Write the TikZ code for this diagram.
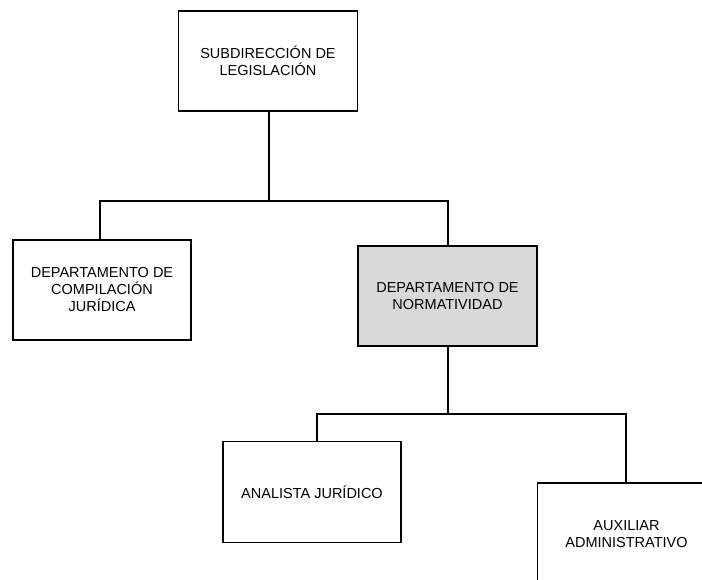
\documentclass[tikz,border=0pt]{standalone}
\usepackage{fontspec}
\setmainfont{Liberation Sans}
\begin{document}
\begin{tikzpicture}[x=1pt,y=-1pt,
  unit/.style={draw=black,line width=1.3pt,fill=white,minimum width=179pt,minimum height=100pt,
    align=center,inner sep=0pt,font=\fontsize{14.5}{17}\selectfont},
  graybox/.style={unit,fill=black!15},
  link/.style={line width=1.3pt,line cap=rect}]
\useasboundingbox (0,0) rectangle (702,580);
\clip (0,0) rectangle (702,580);
% boxes
\node[unit] (sub) at (268,61) {SUBDIRECCIÓN DE\\LEGISLACIÓN};
\node[unit,minimum width=178pt] (comp) at (102,290) {DEPARTAMENTO DE\\COMPILACIÓN\\JURÍDICA};
\node[graybox] (norm) at (447.5,296) {DEPARTAMENTO DE\\NORMATIVIDAD};
\node[unit,minimum width=178pt,minimum height=101pt] (anal) at (312,492) {ANALISTA JURÍDICO};
\node[unit,minimum height=120pt] (aux) at (627,543) {};
\node[align=center,inner sep=0pt,font=\fontsize{14.5}{17}\selectfont] (auxt) at (626.5,534) {AUXILIAR\\ADMINISTRATIVO};
% connectors
\coordinate (j1) at (269,201);
\coordinate (j2) at (448,414);
\draw[link] (sub.south -| j1) -- (j1);
\draw[link] (comp.north -| 100,0) |- (j1) -| (norm.north -| 448,0);
\draw[link] (norm.south -| j2) -- (j2);
\draw[link] (anal.north -| 317,0) |- (j2) -| (aux.north -| 626,0);
\end{tikzpicture}
\end{document}
